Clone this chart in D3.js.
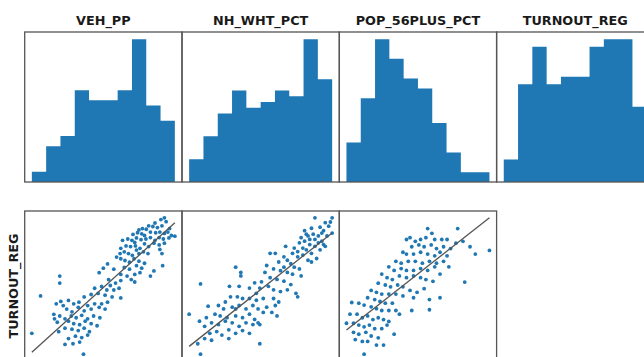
<!DOCTYPE html>
<html>
<head>
<meta charset="utf-8">
<script src="https://cdn.jsdelivr.net/npm/d3@7"></script>
<style>
  html, body { margin: 0; padding: 0; background: #fff; }
  svg { display: block; }
</style>
</head>
<body>
<svg id="chart"></svg>
<script>
const titles = ["VEH_PP", "NH_WHT_PCT", "POP_56PLUS_PCT", "TURNOUT_REG"];
const rowLabel = "TURNOUT_REG";

// histogram counts, 10 equal bins each
const vehCounts = [2, 7, 9, 18, 16, 16, 18, 28, 15, 12];
const whtCounts = [4, 8, 12, 16, 13, 14, 16, 15, 25, 18];
const popCounts = [8, 17, 29, 25, 21, 19, 12, 6, 2, 2];
const turnCounts = [3, 13, 18, 13, 14, 14, 18, 19, 19, 10];

// [x, TURNOUT_REG] pairs
const vehPoints = [
  [0.825,80.3],[0.830,79.2],[0.815,79.8],[0.798,78.8],[0.780,78.0],[0.792,77.8],[0.805,77.5],[0.818,78.0],
  [0.762,77.2],[0.752,76.8],[0.840,77.2],[0.773,77.0],[0.748,76.0],[0.760,75.7],[0.785,76.2],[0.800,76.0],
  [0.812,76.2],[0.825,75.8],[0.855,75.0],[0.845,75.2],[0.835,76.2],[0.768,75.2],[0.735,75.5],[0.720,74.2],
  [0.732,73.8],[0.745,74.5],[0.758,74.0],[0.772,74.2],[0.785,74.6],[0.798,73.8],[0.810,74.6],[0.822,74.2],
  [0.838,74.5],[0.795,73.0],[0.740,73.2],[0.705,73.8],[0.715,72.2],[0.728,72.0],[0.742,72.2],[0.755,71.5],
  [0.768,72.8],[0.780,72.0],[0.810,72.5],[0.825,73.0],[0.700,71.5],[0.745,71.0],[0.812,71.2],[0.698,70.0],
  [0.710,70.5],[0.722,70.0],[0.733,69.5],[0.752,70.0],[0.765,70.5],[0.778,70.0],[0.818,70.0],[0.688,69.0],
  [0.700,68.5],[0.712,68.0],[0.725,67.5],[0.738,68.5],[0.752,67.8],[0.768,67.2],[0.662,67.0],[0.820,66.5],
  [0.795,65.0],[0.710,66.0],[0.725,65.5],[0.745,66.5],[0.760,65.8],[0.650,65.8],[0.680,65.5],[0.785,63.5],
  [0.638,64.5],[0.700,64.0],[0.718,63.5],[0.740,64.0],[0.755,64.5],[0.730,62.5],[0.525,63.5],[0.525,61.5],
  [0.665,62.5],[0.685,61.5],[0.700,62.2],[0.740,61.8],[0.670,60.8],[0.645,60.5],[0.660,59.5],[0.680,59.5],
  [0.695,60.0],[0.625,60.0],[0.470,57.8],[0.615,58.2],[0.635,58.5],[0.655,58.0],[0.675,57.5],[0.700,57.2],
  [0.595,57.5],[0.515,55.5],[0.528,56.2],[0.535,55.0],[0.550,56.5],[0.565,55.5],[0.580,56.0],[0.605,55.0],
  [0.625,55.5],[0.645,55.5],[0.662,56.0],[0.508,52.5],[0.545,54.0],[0.560,53.2],[0.578,54.5],[0.595,53.5],
  [0.615,54.0],[0.638,54.5],[0.655,54.0],[0.510,51.2],[0.525,52.0],[0.540,51.2],[0.558,52.0],[0.572,51.5],
  [0.588,52.2],[0.605,51.2],[0.622,52.0],[0.640,51.5],[0.518,50.2],[0.550,50.5],[0.565,49.8],[0.582,49.5],
  [0.598,50.5],[0.615,49.8],[0.632,49.2],[0.445,47.0],[0.522,47.5],[0.560,48.2],[0.578,47.8],[0.595,48.5],
  [0.610,47.5],[0.540,48.5],[0.570,46.2],[0.588,45.8],[0.605,46.5],[0.550,45.5],[0.540,43.8],[0.563,44.0],
  [0.582,44.5],[0.593,41.0]
];

const whtPoints = [
  [80.0,80.2],[90.0,80.2],[86.0,78.8],[88.0,77.8],[83.0,77.5],[78.0,77.2],[74.0,76.5],[85.0,76.5],
  [79.0,75.5],[76.0,75.0],[72.0,74.5],[82.0,75.0],[87.0,75.0],[90.0,75.8],[80.0,74.0],[74.0,73.5],
  [84.0,73.5],[77.0,72.5],[71.0,73.0],[68.0,71.5],[80.0,72.0],[83.0,71.0],[86.0,72.0],[75.0,71.0],
  [78.0,70.0],[73.0,69.5],[70.0,69.0],[76.0,68.0],[63.0,72.0],[67.0,70.0],[54.0,70.0],[57.0,70.0],
  [62.0,69.0],[64.0,68.0],[66.0,67.0],[68.0,66.0],[71.0,65.5],[78.0,67.5],[81.0,68.5],[52.0,66.5],
  [56.0,65.5],[60.0,65.0],[64.0,64.5],[67.0,64.0],[72.0,63.5],[34.0,66.0],[37.0,64.5],[37.0,63.5],
  [51.0,64.5],[54.0,63.0],[58.0,62.5],[62.0,62.0],[66.0,61.0],[49.0,61.8],[45.0,61.5],[53.0,60.5],
  [56.0,59.5],[60.0,59.0],[64.0,59.5],[69.0,58.5],[70.0,57.5],[13.6,61.2],[30.4,60.5],[36.0,60.5],
  [42.0,60.0],[48.0,60.0],[31.0,57.5],[35.0,57.5],[38.0,57.0],[42.0,57.0],[46.0,56.5],[50.0,57.0],
  [56.0,57.0],[59.0,56.0],[57.0,55.0],[28.0,56.0],[24.0,55.0],[18.0,54.8],[27.0,54.0],[32.0,54.5],
  [36.0,55.0],[40.0,54.0],[44.0,55.0],[47.0,54.0],[52.0,54.5],[55.0,53.0],[58.0,52.0],[7.0,52.5],
  [13.0,50.5],[17.0,51.5],[22.0,52.5],[25.0,52.0],[29.0,51.5],[34.0,52.0],[38.0,51.5],[42.0,52.5],
  [45.0,51.0],[47.0,50.0],[50.0,53.0],[16.0,49.0],[20.0,50.0],[24.0,49.5],[28.0,50.5],[32.0,50.0],
  [36.0,49.0],[40.0,50.0],[44.0,49.5],[48.0,49.5],[19.0,47.0],[23.0,47.5],[26.0,46.5],[30.0,48.0],
  [34.0,47.0],[38.0,47.8],[42.0,47.0],[16.0,45.5],[20.0,45.0],[30.0,45.5],[12.0,44.0],[48.0,44.0],
  [13.6,41.0],[89.0,79.0],[84.0,75.8],[82.0,73.0],[77.0,74.0],[85.0,72.5],[73.0,71.5],[75.0,75.5],
  [70.0,70.5],[62.0,66.0],[59.0,67.5],[46.0,58.5],[34.0,54.0]
];

const popPoints = [
  [16.0,75.5],[16.6,74.2],[20.25,75.5],[13.5,73.0],[14.25,72.0],[13.0,72.5],[15.0,72.5],[15.75,73.0],
  [17.0,72.5],[18.0,72.5],[18.75,72.5],[20.0,71.5],[21.0,72.0],[22.0,70.5],[24.75,69.5],[22.75,68.5],
  [13.75,70.5],[14.75,71.0],[15.5,70.5],[16.5,71.0],[17.25,70.0],[18.25,70.5],[19.25,70.0],[12.5,69.0],
  [13.0,68.5],[14.0,68.5],[15.0,69.0],[16.0,68.5],[17.0,68.0],[17.75,69.0],[18.75,68.0],[11.5,66.5],
  [12.25,66.0],[13.25,66.5],[14.25,66.5],[15.25,66.0],[16.25,66.5],[17.25,66.0],[18.25,66.5],[19.0,65.0],
  [10.5,65.0],[11.25,64.0],[12.25,64.5],[13.0,64.0],[14.0,64.0],[15.0,64.5],[16.0,64.0],[17.0,65.0],
  [17.75,63.0],[9.5,63.0],[10.25,62.0],[11.0,61.5],[12.0,62.5],[13.0,62.0],[14.0,62.5],[15.0,62.0],
  [15.75,61.5],[16.75,61.0],[9.0,60.5],[10.0,60.0],[10.75,59.5],[11.75,60.0],[12.5,59.5],[13.5,58.5],
  [14.5,58.0],[15.5,59.0],[21.25,60.8],[8.0,58.5],[8.75,58.0],[9.5,57.5],[10.5,57.5],[11.5,57.5],
  [12.5,57.0],[14.0,56.5],[16.25,56.0],[17.75,56.5],[7.5,56.5],[8.5,56.0],[9.25,55.5],[10.0,55.0],
  [11.0,55.0],[5.25,55.2],[6.25,55.0],[7.0,54.5],[8.0,54.0],[8.75,53.5],[9.5,53.0],[10.5,53.0],
  [11.5,53.0],[12.0,52.0],[13.75,53.0],[16.25,53.2],[5.0,52.0],[6.0,52.0],[6.75,51.0],[7.5,51.5],
  [8.25,50.5],[9.0,51.0],[9.75,50.5],[10.5,50.0],[4.5,49.5],[5.5,49.5],[6.25,49.0],[7.0,48.5],
  [7.75,49.0],[8.5,48.0],[9.5,48.0],[10.25,49.0],[11.25,46.5],[5.5,47.0],[6.25,46.5],[7.25,47.0],
  [8.0,46.0],[9.0,45.5],[5.75,45.0],[6.75,44.5],[7.5,44.5],[8.75,43.5],[9.75,43.5],[7.0,41.0]
];

const histCounts = [vehCounts, whtCounts, popCounts, turnCounts];
const scatterSets = [vehPoints, whtPoints, popPoints];

const W = 644, H = 357;
const PANEL = {left: 24.7, width: 157.3, height: 150, tops: [32, 211]};
const BLUE = "#1f77b4";

const svg = d3.select("#chart").attr("width", W).attr("height", H);
svg.append("rect").attr("width", W).attr("height", H).attr("fill", "#fff");

function panelX(col) {
  return PANEL.left + col * PANEL.width;
}

function padded(ext) {
  const r = ext[1] - ext[0];
  return [ext[0] - r * 0.05, ext[1] + r * 0.05];
}

function fitLine(pts) {
  const mx = d3.mean(pts, d => d[0]);
  const my = d3.mean(pts, d => d[1]);
  let sxy = 0, sxx = 0;
  pts.forEach(d => {
    sxy += (d[0] - mx) * (d[1] - my);
    sxx += (d[0] - mx) * (d[0] - mx);
  });
  const b = sxy / sxx;
  return {a: my - b * mx, b: b};
}

function drawFrame(col, top) {
  svg.append("rect")
    .attr("x", panelX(col))
    .attr("y", top)
    .attr("width", PANEL.width)
    .attr("height", PANEL.height)
    .attr("fill", "none")
    .attr("stroke", "#555")
    .attr("stroke-width", 1.3);
}

// x range of each histogram: the extent of the matching variable
function histRange(col) {
  if (col < 3) return d3.extent(scatterSets[col], d => d[0]);
  return d3.extent(vehPoints, d => d[1]);
}

function drawHist(col) {
  const counts = histCounts[col];
  const top = PANEL.tops[0];
  const range = histRange(col);
  const x = d3.scaleLinear().domain(padded(range)).range([panelX(col), panelX(col) + PANEL.width]);
  const y = d3.scaleLinear().domain([0, d3.max(counts) * 1.05]).range([top + PANEL.height, top]);
  const binW = (range[1] - range[0]) / counts.length;

  // one step outline per histogram, so neighbouring bars show no seams
  const steps = [];
  counts.forEach((c, i) => {
    steps.push([range[0] + i * binW, c]);
    steps.push([range[0] + (i + 1) * binW, c]);
  });
  const area = d3.area()
    .x(d => x(d[0]))
    .y0(y(0))
    .y1(d => y(d[1]));

  svg.append("path")
    .datum(steps)
    .attr("d", area)
    .attr("fill", BLUE);

  drawFrame(col, top);

  svg.append("text")
    .attr("x", panelX(col) + PANEL.width / 2)
    .attr("y", 25)
    .attr("text-anchor", "middle")
    .attr("font-family", "DejaVu Sans, sans-serif")
    .attr("font-weight", "bold")
    .attr("font-size", 12.8)
    .attr("fill", "#1a1a1a")
    .text(titles[col]);
}

function drawScatter(col) {
  const pts = scatterSets[col];
  const top = PANEL.tops[1];
  const fit = fitLine(pts);
  const xExt = d3.extent(pts, d => d[0]);
  const linePts = xExt.map(v => [v, fit.a + fit.b * v]);
  const yExt = d3.extent(pts.map(d => d[1]).concat(linePts.map(d => d[1])));

  const x = d3.scaleLinear().domain(padded(xExt)).range([panelX(col), panelX(col) + PANEL.width]);
  const y = d3.scaleLinear().domain(padded(yExt)).range([top + PANEL.height, top]);

  svg.append("g")
    .selectAll("circle")
    .data(pts)
    .join("circle")
    .attr("cx", d => x(d[0]))
    .attr("cy", d => y(d[1]))
    .attr("r", 1.9)
    .attr("fill", BLUE);

  svg.append("path")
    .datum(linePts)
    .attr("d", d3.line().x(d => x(d[0])).y(d => y(d[1])))
    .attr("fill", "none")
    .attr("stroke", "#555")
    .attr("stroke-width", 1.3);

  drawFrame(col, top);
}

[0, 1, 2, 3].forEach(drawHist);
[0, 1, 2].forEach(drawScatter);

svg.append("text")
  .attr("transform", `translate(17.5, ${PANEL.tops[1] + PANEL.height / 2}) rotate(-90)`)
  .attr("text-anchor", "middle")
  .attr("font-family", "DejaVu Sans, sans-serif")
  .attr("font-weight", "bold")
  .attr("font-size", 12.8)
  .attr("fill", "#1a1a1a")
  .text(rowLabel);
</script>
</body>
</html>
